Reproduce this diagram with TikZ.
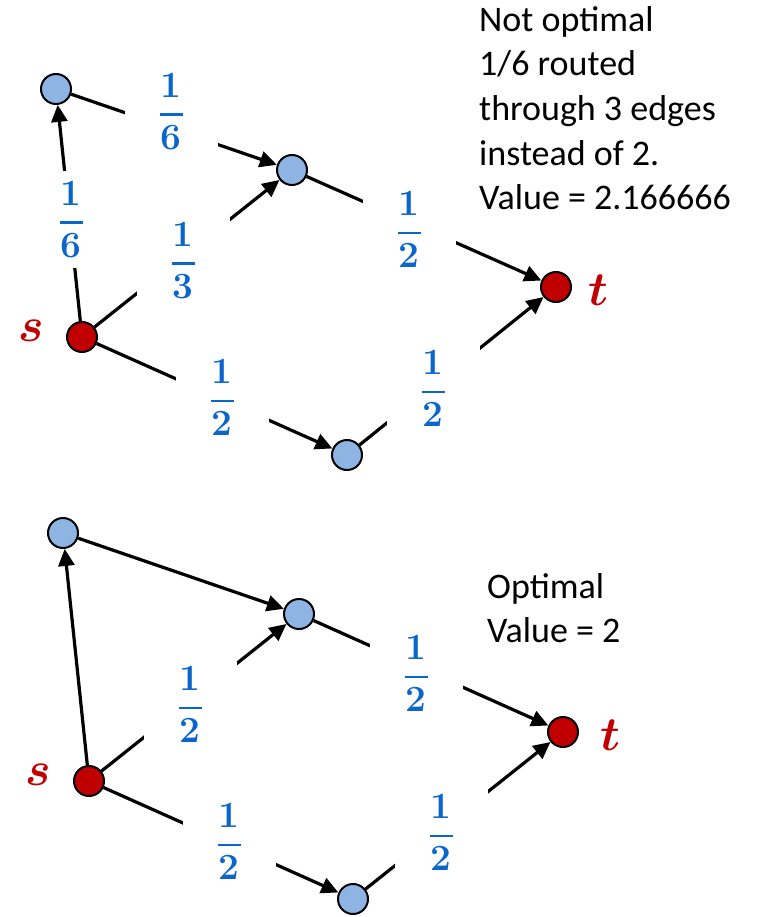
\RequirePackage{fix-cm}
\documentclass[tikz,border=0pt]{standalone}
\usepackage{fontspec}
\usepackage{bm}
\usetikzlibrary{arrows.meta}
\newfontfamily\calib{Carlito}
\definecolor{nodeblue}{RGB}{142,180,227}
\definecolor{nodered}{RGB}{192,0,0}
\definecolor{fracblue}{RGB}{10,102,204}
\newcommand\fr[2]{\vbox{\offinterlineskip\hbox to 24pt{\hss#1\hss}\kern16pt\hbox to 24pt{\hss\rule{23pt}{2.8pt}\hss}\kern9pt\hbox to 24pt{\hss#2\hss}}}
\tikzset{
  vtx/.style={circle, draw=black, line width=2pt, minimum size=30pt, inner sep=0pt},
  bluev/.style={vtx, fill=nodeblue},
  redv/.style={vtx, fill=nodered},
  edge/.style={line width=3.2pt, -{Triangle[length=17pt,width=16pt]}},
  flab/.style={fill=white, minimum width=93pt, minimum height=96pt, inner sep=0pt, text=fracblue, font=\fontsize{37}{37}\selectfont\bfseries},
  stlab/.style={text=nodered, inner sep=0pt, font=\fontsize{48}{48}\selectfont},
  note/.style={anchor=north west, align=left, inner sep=0pt, font=\calib\fontsize{36}{44.7}\selectfont}
}
\begin{document}
\begin{tikzpicture}[x=1pt,y=-1pt]
\useasboundingbox (0,0) rectangle (759,917);
% ---------- top graph ----------
\node[bluev] (A) at (56,89) {};
\node[bluev] (B) at (292,170) {};
\node[redv] (s) at (82,337) {};
\node[bluev] (C) at (347,455) {};
\node[redv] (t) at (556,287) {};
\draw[edge] (s) -- (A);
\draw[edge] (A) -- (B);
\draw[edge] (s) -- (B);
\draw[edge] (B) -- (t);
\draw[edge] (s) -- (C);
\draw[edge] (C) -- (t);
\node[flab] (lAB) at (171,111.5) {\fr{1}{6}};
\node[flab] (lsA) at (71,219.5) {\fr{1}{6}};
\node[flab] (lsB) at (183,260.5) {\fr{1}{3}};
\node[flab] (lsC) at (222,397.5) {\fr{1}{2}};
\node[flab] (lBt) at (409,229.5) {\fr{1}{2}};
\node[flab] (lCt) at (433,388.5) {\fr{1}{2}};
\node[stlab] (slab) at (31,331) {$\bm{s}$};
\node[stlab] (tlab) at (598,290) {$\bm{t}$};
\node[note] (txt1) at (479,6) {Not optimal\\1/6 routed\\through 3 edges\\instead of 2.\\Value = 2.166666};
% ---------- bottom graph ----------
\node[bluev] (A2) at (63,533) {};
\node[bluev] (B2) at (299,614) {};
\node[redv] (s2) at (89,781) {};
\node[bluev] (C2) at (353,899) {};
\node[redv] (t2) at (563,732) {};
\draw[edge] (s2) -- (A2);
\draw[edge] (A2) -- (B2);
\draw[edge] (s2) -- (B2);
\draw[edge] (B2) -- (t2);
\draw[edge] (s2) -- (C2);
\draw[edge] (C2) -- (t2);
\node[flab] (lsB2) at (190,704.5) {\fr{1}{2}};
\node[flab] (lsC2) at (229,841.5) {\fr{1}{2}};
\node[flab] (lBt2) at (416,673.5) {\fr{1}{2}};
\node[flab] (lCt2) at (441,832.5) {\fr{1}{2}};
\node[stlab] (slab2) at (38,775) {$\bm{s}$};
\node[stlab] (tlab2) at (610,735) {$\bm{t}$};
\node[note] (txt2) at (487,573) {Optimal\\Value = 2};
\end{tikzpicture}
\end{document}
